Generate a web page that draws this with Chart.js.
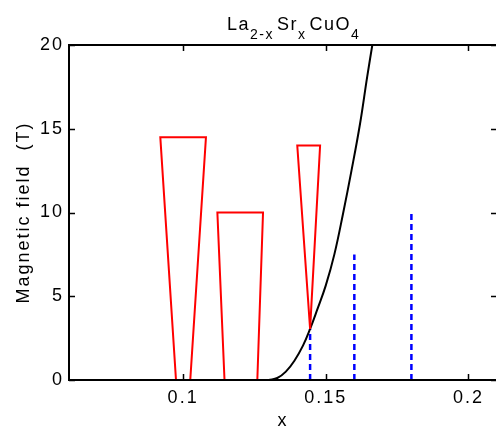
<!DOCTYPE html>
<html>
<head>
<meta charset="utf-8">
<script src="https://cdn.jsdelivr.net/npm/chart.js@4/dist/chart.umd.min.js"></script>
<style>
  html, body { margin: 0; padding: 0; overflow: hidden; background: #fff; }
  #wrap { width: 500px; height: 426px; }
</style>
</head>
<body>
<div id="wrap"><canvas id="fieldChart"></canvas></div>
<script>
// tick labels
var xTicks = [0.1, 0.15, 0.2];
var yTicks = [0, 5, 10, 15, 20];

// red wedges (x, field)
var wedge1X = [0.0975, 0.0920, 0.1080, 0.1025];
var wedge1Y = [0, 14.5, 14.5, 0];
var wedge2X = [0.1145, 0.1120, 0.1280, 0.1260];
var wedge2Y = [0, 10, 10, 0];
var wedge3X = [0.1445, 0.1400, 0.1480, 0.1445];
var wedge3Y = [3.05, 14, 14, 3.05];

// black curve
var curveX = [0.1300, 0.1330, 0.1360, 0.1390, 0.1420, 0.1445, 0.1470, 0.1500, 0.1530, 0.1560, 0.1590, 0.1620, 0.1645, 0.1665];
var curveY = [0, 0.12, 0.5, 1.15, 2.05, 3.05, 4.2, 5.65, 7.5, 9.9, 12.5, 15.3, 18.1, 20.2];

// blue dashed verticals
var dashX = [0.1445, 0.16, 0.18];
var dashTop = [3.05, 7.5, 10];

function pts(xs, ys) {
    var out = [];
    for (var i = 0; i < xs.length; i++) out.push({ x: xs[i], y: ys[i] });
    return out;
}

var FONT = "'Liberation Sans', Arial, sans-serif";
var SPACING = "2px";

var datasets = [];
[[wedge1X, wedge1Y], [wedge2X, wedge2Y], [wedge3X, wedge3Y]].forEach(function (w) {
    datasets.push({
        data: pts(w[0], w[1]),
        showLine: true,
        borderColor: "#ff0000",
        borderWidth: 2,
        pointRadius: 0,
        tension: 0,
    });
});
datasets.push({
    data: pts(curveX, curveY),
    showLine: true,
    borderColor: "#000000",
    borderWidth: 2,
    pointRadius: 0,
    tension: 0.4,
});
for (var i = 0; i < dashX.length; i++) {
    datasets.push({
        data: pts([dashX[i], dashX[i]], [0, dashTop[i]]),
        showLine: true,
        borderColor: "#0000ff",
        borderWidth: 2.5,
        borderDash: [6, 4],
        pointRadius: 0,
    });
}

// letter spacing for all canvas text
var spacingPlugin = {
    id: "spacing",
    beforeLayout: function (chart) { chart.ctx.letterSpacing = SPACING; },
    beforeDraw: function (chart) { chart.ctx.letterSpacing = SPACING; },
};

// box and inward ticks, title with subscripts
var framePlugin = {
    id: "frame",
    afterDatasetsDraw: function (chart) {
        var ctx = chart.ctx;
        var a = chart.chartArea;
        var sx = chart.scales.x, sy = chart.scales.y;
        ctx.save();
        ctx.strokeStyle = "#000";
        ctx.lineWidth = 2;
        ctx.strokeRect(a.left, a.top, a.right - a.left, a.bottom - a.top);
        ctx.lineWidth = 1.5;
        ctx.beginPath();
        xTicks.forEach(function (v) {
            var px = Math.round(sx.getPixelForValue(v)) + 0.5;
            ctx.moveTo(px, a.bottom); ctx.lineTo(px, a.bottom - 6);
            ctx.moveTo(px, a.top); ctx.lineTo(px, a.top + 6);
        });
        yTicks.forEach(function (v) {
            var py = Math.round(sy.getPixelForValue(v)) + 0.5;
            ctx.moveTo(a.left, py); ctx.lineTo(a.left + 6, py);
            ctx.moveTo(a.right, py); ctx.lineTo(a.right - 6, py);
        });
        ctx.stroke();

        // title
        var parts = [
            { t: "La", sub: false }, { t: "2-x", sub: true },
            { t: "Sr", sub: false }, { t: "x", sub: true },
            { t: "CuO", sub: false }, { t: "4", sub: true },
        ];
        ctx.fillStyle = "#000";
        ctx.textBaseline = "alphabetic";
        ctx.textAlign = "left";
        ctx.letterSpacing = "1.5px";
        var x = 227;
        parts.forEach(function (p) {
            ctx.font = (p.sub ? "14px " : "18px ") + FONT;
            ctx.fillText(p.t, x, p.sub ? 39 : 30);
            x += ctx.measureText(p.t).width + (p.sub ? 3 : 0);
        });
        ctx.restore();
    },
};

var ctx = document.getElementById("fieldChart").getContext("2d");
var fieldChart = new Chart(ctx, {
    type: "scatter",
    data: { datasets: datasets },
    plugins: [spacingPlugin, framePlugin],
    options: {
        responsive: true,
        maintainAspectRatio: false,
        animation: false,
        layout: { padding: { top: 45, right: 3, left: 0, bottom: 0 } },
        plugins: { legend: { display: false }, tooltip: { enabled: false } },
        scales: {
            x: {
                type: "linear",
                min: 0.06,
                max: 0.21,
                grid: { display: false, drawTicks: false },
                border: { display: false },
                afterBuildTicks: function (s) { s.ticks = xTicks.map(function (v) { return { value: v }; }); },
                afterFit: function (s) { s.height = 46; },
                ticks: {
                    padding: 7,
                    color: "#000",
                    font: { family: FONT, size: 18 },
                    callback: function (v) { return String(v); },
                },
                title: {
                    display: true,
                    text: "x",
                    color: "#000",
                    font: { family: FONT, size: 18, lineHeight: 1 },
                    padding: { top: 0, bottom: -4 },
                },
            },
            y: {
                min: 0,
                max: 20,
                grid: { display: false, drawTicks: false },
                border: { display: false },
                afterBuildTicks: function (s) { s.ticks = yTicks.map(function (v) { return { value: v }; }); },
                afterFit: function (s) { s.width = 69; },
                ticks: {
                    padding: 5,
                    color: "#000",
                    font: { family: FONT, size: 18 },
                },
                title: {
                    display: true,
                    text: "Magnetic field  (T)",
                    color: "#000",
                    font: { family: FONT, size: 18, lineHeight: 1 },
                    padding: { top: 15, bottom: 0 },
                },
            },
        },
    },
});
</script>
</body>
</html>
